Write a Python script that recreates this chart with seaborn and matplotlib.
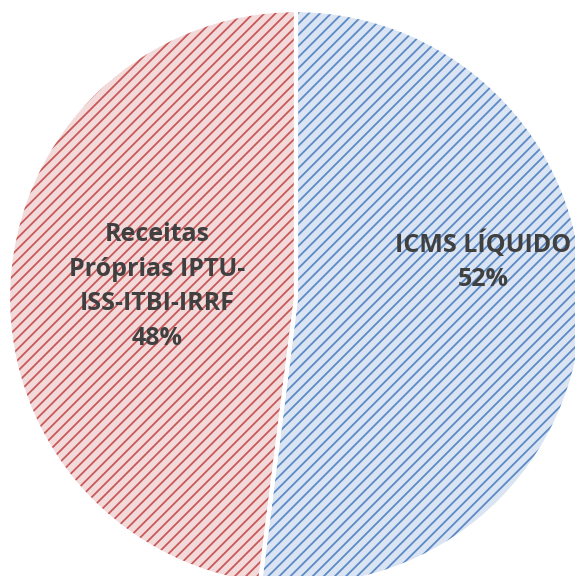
import matplotlib
matplotlib.use("Agg")
import matplotlib.pyplot as plt
import seaborn as sns

labels = ["ICMS LÍQUIDO", "Receitas\nPróprias IPTU-\nISS-ITBI-IRRF"]
values = [52, 48]
fill_colors = ["#dae4f2", "#f3dada"]
hatch_colors = ["#5b8ac6", "#c9585a"]

sns.set_style("white")
plt.rcParams["font.family"] = ["Open Sans", "DejaVu Sans"]
plt.rcParams["hatch.linewidth"] = 1.3

fig = plt.figure(figsize=(5.75, 5.76), dpi=100)
ax = fig.add_axes([0, 0, 1, 1])

# base fill
ax.pie(values, colors=fill_colors, startangle=90, counterclock=False,
       wedgeprops=dict(linewidth=0))
# hatch layer
wedges, _ = ax.pie(values, colors=["none", "none"], startangle=90, counterclock=False,
                   wedgeprops=dict(linewidth=0, fill=False))
for w, c in zip(wedges, hatch_colors):
    w.set_hatch("///")
    w.set_edgecolor(c)
    w.set_linewidth(0)
# white separators
ax.pie(values, colors=["none", "none"], startangle=90, counterclock=False,
       wedgeprops=dict(linewidth=3, edgecolor="white", fill=False))

ax.text(0.65, 0.128, f"{labels[0]}\n{values[0]}%", ha="center", va="center",
        fontsize=18, fontweight="bold", color="#404040", linespacing=1.5)
ax.text(-0.483, 0.04, f"{labels[1]}\n{values[1]}%", ha="center", va="center",
        fontsize=18, fontweight="bold", color="#404040", linespacing=1.5)

ax.set_xlim(-1.028, 0.969)
ax.set_ylim(-0.965, 1.035)
ax.set_aspect("equal")
ax.axis("off")
fig.savefig("out.png", dpi=100)
